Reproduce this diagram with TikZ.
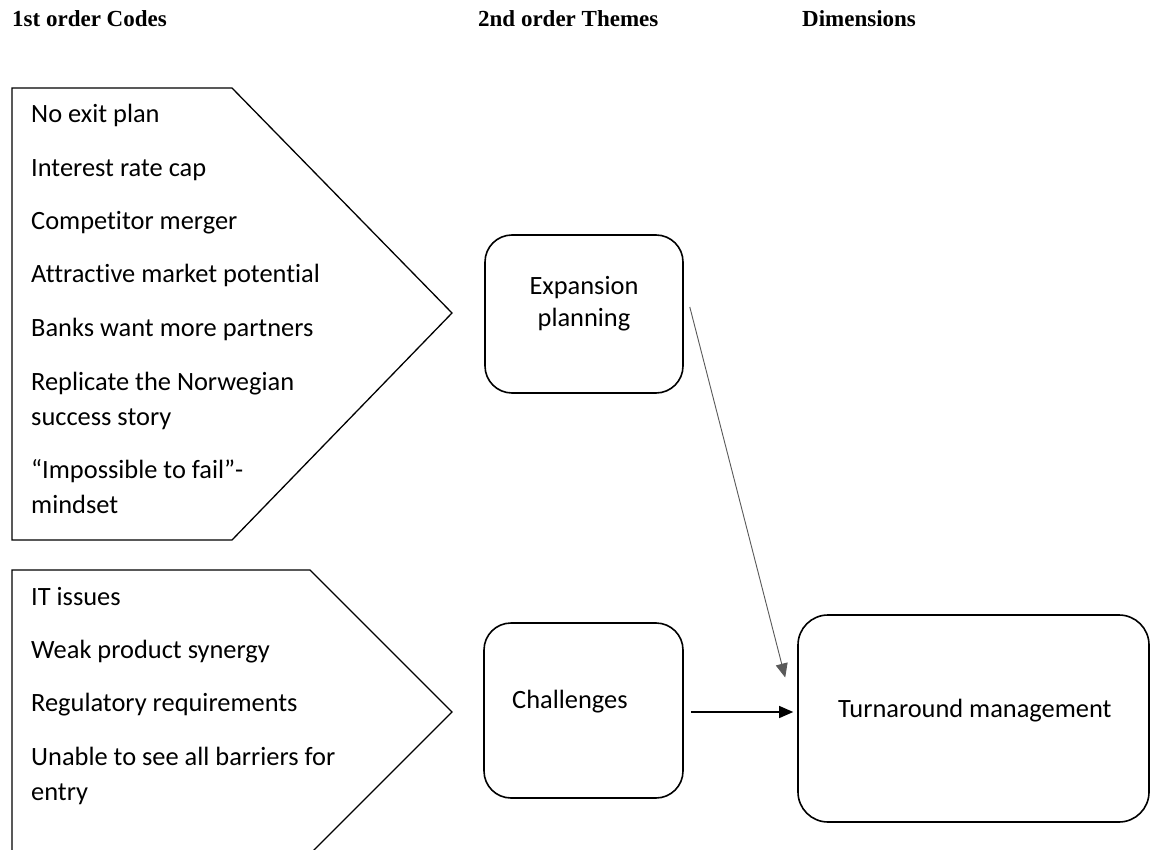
\documentclass[tikz,border=0pt]{standalone}
\usepackage{fontspec}
\setmainfont[RawFeature=-liga]{Carlito}
\newfontfamily\headfont{Liberation Serif}
\usetikzlibrary{arrows.meta,calc}

\tikzset{
  head/.style={anchor=base west, inner sep=0pt, font=\headfont\bfseries\fontsize{23}{27}\selectfont},
  code/.style={anchor=base west, inner sep=0pt, font=\fontsize{26.4}{36}\selectfont},
  tag/.style={inner sep=0pt, font=\fontsize{26.4}{32}\selectfont},
  chevron/.style={draw=black, line width=1.3pt, line join=miter},
  theme/.style={draw=black, line width=1.6pt, rounded corners=27pt, minimum width=#1, inner sep=0pt, text width=0pt},
  link/.style={line width=1.1pt, -{Triangle[length=14pt,width=12pt]}},
}

\begin{document}
\begin{tikzpicture}[x=1pt,y=-1pt]
  \clip (0,0) rectangle (1151,850);
  \fill[white] (0,0) rectangle (1151,850);

  % column headings
  \node[head] (h1) at (12,27) {1st order Codes};
  \node[head] (h2) at (478,27) {2nd order Themes};
  \node[head] (h3) at (802,27) {Dimensions};

  % first order codes: upper group
  \draw[chevron] (12,88) -- (232,88) -- (452,313) -- (232,540) -- (12,540) -- cycle;
  \node[code] (c1) at (31,123) {No exit plan};
  \node[code] (c2) at (31,177) {Interest rate cap};
  \node[code] (c3) at (31,230) {Competitor merger};
  \node[code] (c4) at (31,283) {Attractive market potential};
  \node[code] (c5) at (31,337) {Banks want more partners};
  \node[code] (c6) at (31,390) {Replicate the Norwegian};
  \node[code] (c6b) at (31,425) {success story};
  \node[code] (c7) at (31,478) {“Impossible to fail”-};
  \node[code] (c7b) at (31,513) {mindset};

  % first order codes: lower group
  \draw[chevron] (12,570) -- (310,570) -- (452,712) -- (310,854) -- (12,854) -- cycle;
  \node[code] (d1) at (31,605) {IT issues};
  \node[code] (d2) at (31,658) {Weak product synergy};
  \node[code] (d3) at (31,711) {Regulatory requirements};
  \node[code] (d4) at (31,765) {Unable to see all barriers for};
  \node[code] (d4b) at (31,800) {entry};

  % second order themes
  \node[theme=198pt, minimum height=158pt] (exp) at (584,314) {};
  \node[tag, align=center] (expt) at (584,304) {Expansion\\planning};
  \node[theme=199pt, minimum height=175pt] (chal) at (583.5,710.5) {};
  \node[tag, anchor=base west] (chalt) at (512,708) {Challenges};

  % dimension
  \node[theme=351pt, minimum height=207pt, rounded corners=30pt] (turn) at (973.5,718.5) {};
  \node[tag, anchor=base west] (turnt) at (838,717) {Turnaround management};

  % links
  \draw[link, draw=black!65, line width=0.9pt] ($(exp.east)+(6,-7)$) -- ($(turn.west)+(-12,-41)$);
  \draw[link] ($(chal.east)+(7,1.5)$) -- ($(turn.west)+(-4,-6.5)$);
\end{tikzpicture}
\end{document}
